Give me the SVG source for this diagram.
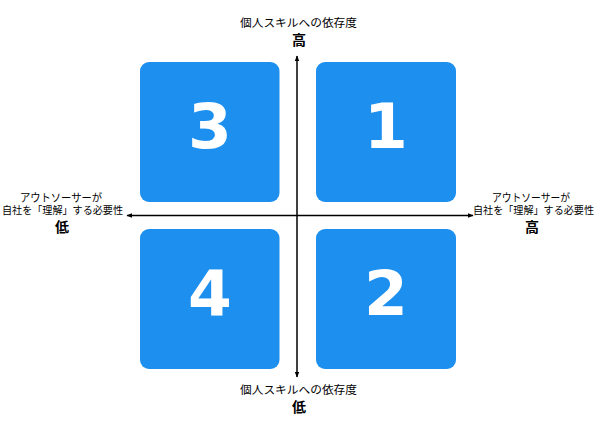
<svg xmlns="http://www.w3.org/2000/svg" width="600" height="422" viewBox="0 0 600 422">
<defs>
<marker id="ah" viewBox="0 0 10 10" refX="9" refY="5" markerWidth="6" markerHeight="6" orient="auto-start-reverse" markerUnits="userSpaceOnUse">
<path d="M0,1 L10,5 L0,9 Z" fill="#000"/>
</marker>
<style>
.box{fill:#1c8fef;}
.num{font-family:"DejaVu Sans",sans-serif;font-weight:bold;font-size:63px;fill:#fff;text-anchor:middle;}
.lbl{font-family:"Noto Sans CJK JP",sans-serif;font-size:11px;fill:#000;text-anchor:middle;}
.sm{font-size:10.2px;}
.big{font-family:"Noto Sans CJK JP",sans-serif;font-size:14px;font-weight:bold;fill:#000;text-anchor:middle;}
.ax{stroke:#000;stroke-width:1.5;fill:none;}
</style>
</defs>
<rect width="600" height="422" fill="#fff"/>
<g id="connectors">
<line class="ax" x1="127" y1="215.5" x2="473" y2="215.5" marker-start="url(#ah)" marker-end="url(#ah)"/>
<line class="ax" x1="297" y1="56" x2="297" y2="377" marker-start="url(#ah)" marker-end="url(#ah)"/>
</g>
<g id="q3"><rect class="box" x="140" y="62" width="139.5" height="140" rx="9"/><text class="num" x="210" y="148">3</text></g>
<g id="q1"><rect class="box" x="316" y="62" width="140" height="140" rx="9"/><text class="num" x="386" y="148">1</text></g>
<g id="q4"><rect class="box" x="140" y="229" width="139.5" height="140" rx="9"/><text class="num" x="210" y="315">4</text></g>
<g id="q2"><rect class="box" x="316" y="229" width="140" height="140" rx="9"/><text class="num" x="386" y="315">2</text></g>
<g id="label-top"><text class="lbl" x="298.5" y="27" textLength="117" lengthAdjust="spacingAndGlyphs">個人スキルへの依存度</text><text class="big" x="299" y="45">高</text></g>
<g id="label-bottom"><text class="lbl" x="298.5" y="394" textLength="117" lengthAdjust="spacingAndGlyphs">個人スキルへの依存度</text><text class="big" x="299" y="412">低</text></g>
<g id="label-left"><text class="lbl"><tspan x="61" y="201.5" textLength="82" lengthAdjust="spacingAndGlyphs">アウトソーサーが</tspan><tspan class="sm" x="62.5" y="214" textLength="121" lengthAdjust="spacingAndGlyphs">自社を「理解」する必要性</tspan></text><text class="big" x="62" y="232">低</text></g>
<g id="label-right"><text class="lbl"><tspan x="531" y="201.5" textLength="78" lengthAdjust="spacingAndGlyphs">アウトソーサーが</tspan><tspan class="sm" x="533.5" y="214" textLength="121" lengthAdjust="spacingAndGlyphs">自社を「理解」する必要性</tspan></text><text class="big" x="532" y="232">高</text></g>
</svg>
